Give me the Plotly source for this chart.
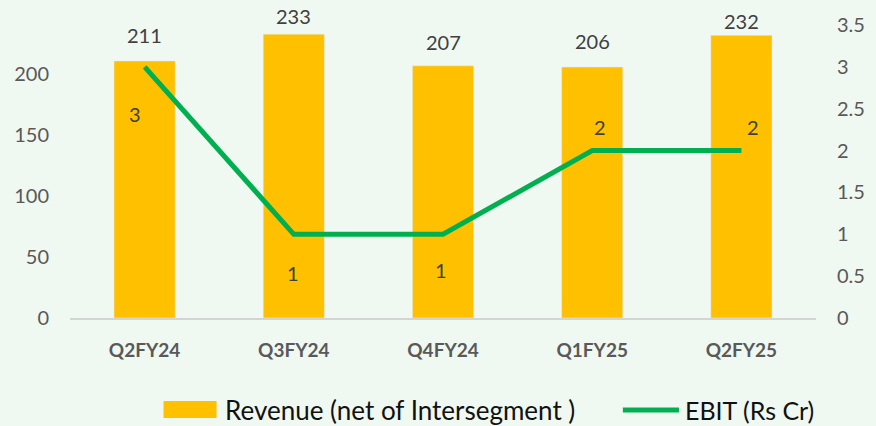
import plotly.graph_objects as go

# data
quarters = ['Q2FY24', 'Q3FY24', 'Q4FY24', 'Q1FY25', 'Q2FY25']
revenue = [211, 233, 207, 206, 232]
ebit = [3, 1, 1, 2, 2]

left_ticks = [0, 50, 100, 150, 200]
right_ticks = [0, 0.5, 1, 1.5, 2, 2.5, 3, 3.5]

# label offsets in pixels (as placed in the original)
rev_label_dy = [26, 18, 24, 26, 14]
ebit_label_dx = [-10, -1, -2, 8, 12]
ebit_label_dy = [-47, -39, -36, 24, 24]

BAR = '#FFC000'
LINE = '#00B050'
TXT = '#404040'
AX = '#595959'
FONT = 'Lato'

fig = go.Figure()

fig.add_trace(go.Bar(
    x = quarters,
    y = revenue,
    width = 0.41,
    marker_color = BAR,
    name = 'Revenue (net of Intersegment )',
    showlegend = False,
    hoverinfo = 'x+y'
))

fig.add_trace(go.Scatter(
    x = quarters,
    y = ebit,
    yaxis = 'y2',
    mode = 'lines',
    line = {'color': LINE, 'width': 5},
    name = 'EBIT (Rs Cr)',
    showlegend = False
))

annotations = []
for q, v, dy in zip(quarters, revenue, rev_label_dy):
    annotations.append({
        'x': q, 'y': v, 'xref': 'x', 'yref': 'y',
        'text': str(v), 'showarrow': False,
        'yshift': dy, 'font': {'size': 20, 'color': TXT, 'family': FONT}
    })
for q, v, dx, dy in zip(quarters, ebit, ebit_label_dx, ebit_label_dy):
    annotations.append({
        'x': q, 'y': v, 'xref': 'x', 'yref': 'y2',
        'text': str(v), 'showarrow': False,
        'xshift': dx, 'yshift': dy,
        'font': {'size': 20, 'color': TXT, 'family': FONT}
    })

# hand-drawn legend at the bottom
annotations += [
    {'x': 0.2045, 'y': -0.314, 'xref': 'paper', 'yref': 'paper',
     'xanchor': 'left', 'yanchor': 'middle', 'showarrow': False,
     'text': 'Revenue (net of Intersegment )',
     'font': {'size': 26, 'color': '#111111', 'family': FONT}},
    {'x': 0.8216, 'y': -0.314, 'xref': 'paper', 'yref': 'paper',
     'xanchor': 'left', 'yanchor': 'middle', 'showarrow': False,
     'text': 'EBIT (Rs Cr)',
     'font': {'size': 25, 'color': '#111111', 'family': FONT}},
]
shapes = [
    {'type': 'rect', 'xref': 'paper', 'yref': 'paper',
     'x0': 0.1254, 'x1': 0.1965, 'y0': -0.3413, 'y1': -0.2833,
     'fillcolor': BAR, 'line': {'width': 0}},
    {'type': 'line', 'xref': 'paper', 'yref': 'paper',
     'x0': 0.7411, 'x1': 0.8163, 'y0': -0.314, 'y1': -0.314,
     'line': {'color': LINE, 'width': 5}},
]

fig.update_layout(
    width = 876,
    height = 426,
    margin = {'l': 70, 'r': 60, 't': 25, 'b': 108},
    paper_bgcolor = '#F0F8F2',
    plot_bgcolor = 'rgba(0,0,0,0)',
    font = {'family': FONT, 'color': AX},
    showlegend = False,
    annotations = annotations,
    shapes = shapes,
    xaxis = {
        'showgrid': False,
        'showline': True,
        'linecolor': '#D4D4D4',
        'linewidth': 2,
        'ticks': '',
        'ticklabelstandoff': 14,
        'tickfont': {'size': 19, 'color': AX, 'family': FONT, 'weight': 'bold'},
    },
    yaxis = {
        'range': [0, 240.5],
        'tickvals': left_ticks,
        'showgrid': False,
        'zeroline': False,
        'ticks': '',
        'ticklabelstandoff': 20,
        'tickfont': {'size': 20, 'color': AX, 'family': FONT},
    },
    yaxis2 = {
        'range': [0, 3.5],
        'tickvals': right_ticks,
        'overlaying': 'y',
        'side': 'right',
        'showgrid': False,
        'zeroline': False,
        'ticks': '',
        'ticklabelstandoff': 20,
        'tickfont': {'size': 20, 'color': AX, 'family': FONT},
    },
)

fig.write_html(
    'out.html',
    config = {'displayModeBar': False},
    post_script = "document.body.style.margin='0';document.body.style.overflow='hidden';"
)
